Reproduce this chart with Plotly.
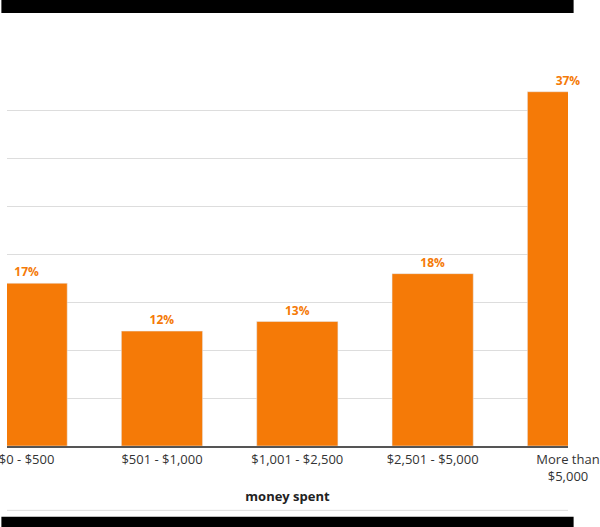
import plotly.graph_objects as go

categories = ["$0 - $500", "$501 - $1,000", "$1,001 - $2,500", "$2,501 - $5,000", "More than<br>$5,000"]
shares = [17, 12, 13, 18, 37]
labels = [f"<b>{v}%</b>" for v in shares]

fig = go.Figure(go.Bar(
    x=list(range(len(categories))),
    y=shares,
    width=0.6,
    marker_color="#F57A07",
    text=labels,
    textposition="outside",
    textfont=dict(color="#F57A07", size=12, family="Open Sans"),
    cliponaxis=False,
))

fig.update_layout(
    width=600, height=527,
    margin=dict(l=0, r=0, t=63, b=81),
    plot_bgcolor="white", paper_bgcolor="white",
    showlegend=False,
    font=dict(family="Open Sans", color="#333333"),
    xaxis=dict(
        tickmode="array", tickvals=list(range(len(categories))), ticktext=categories,
        range=[-0.145, 4.0], showgrid=False, showline=True, linecolor="#555555", linewidth=2,
        tickfont=dict(size=13), ticks="", ticklabeloverflow="allow",
        title=dict(text="<b>money spent</b>", font=dict(size=13, color="#222222"), standoff=8),
    ),
    yaxis=dict(
        range=[0, 40], dtick=5, showticklabels=False, gridcolor="#dddddd", zeroline=False,
    ),
    shapes=[
        dict(type="rect", xref="paper", yref="paper", x0=-0.01, x1=1.01, y0=1.1305, y1=1.17,
             fillcolor="black", line_width=0),
        dict(type="rect", xref="paper", yref="paper", x0=-0.01, x1=1.01, y0=-0.22, y1=-0.185,
             fillcolor="black", line_width=0),
        dict(type="line", xref="paper", yref="paper", x0=0, x1=1, y0=-0.168, y1=-0.168,
             line=dict(color="#dddddd", width=1)),
    ],
)

fig.write_html(
    "out.html",
    config={"displayModeBar": False},
    post_script="document.body.style.margin='0';document.body.style.overflow='hidden';",
)
